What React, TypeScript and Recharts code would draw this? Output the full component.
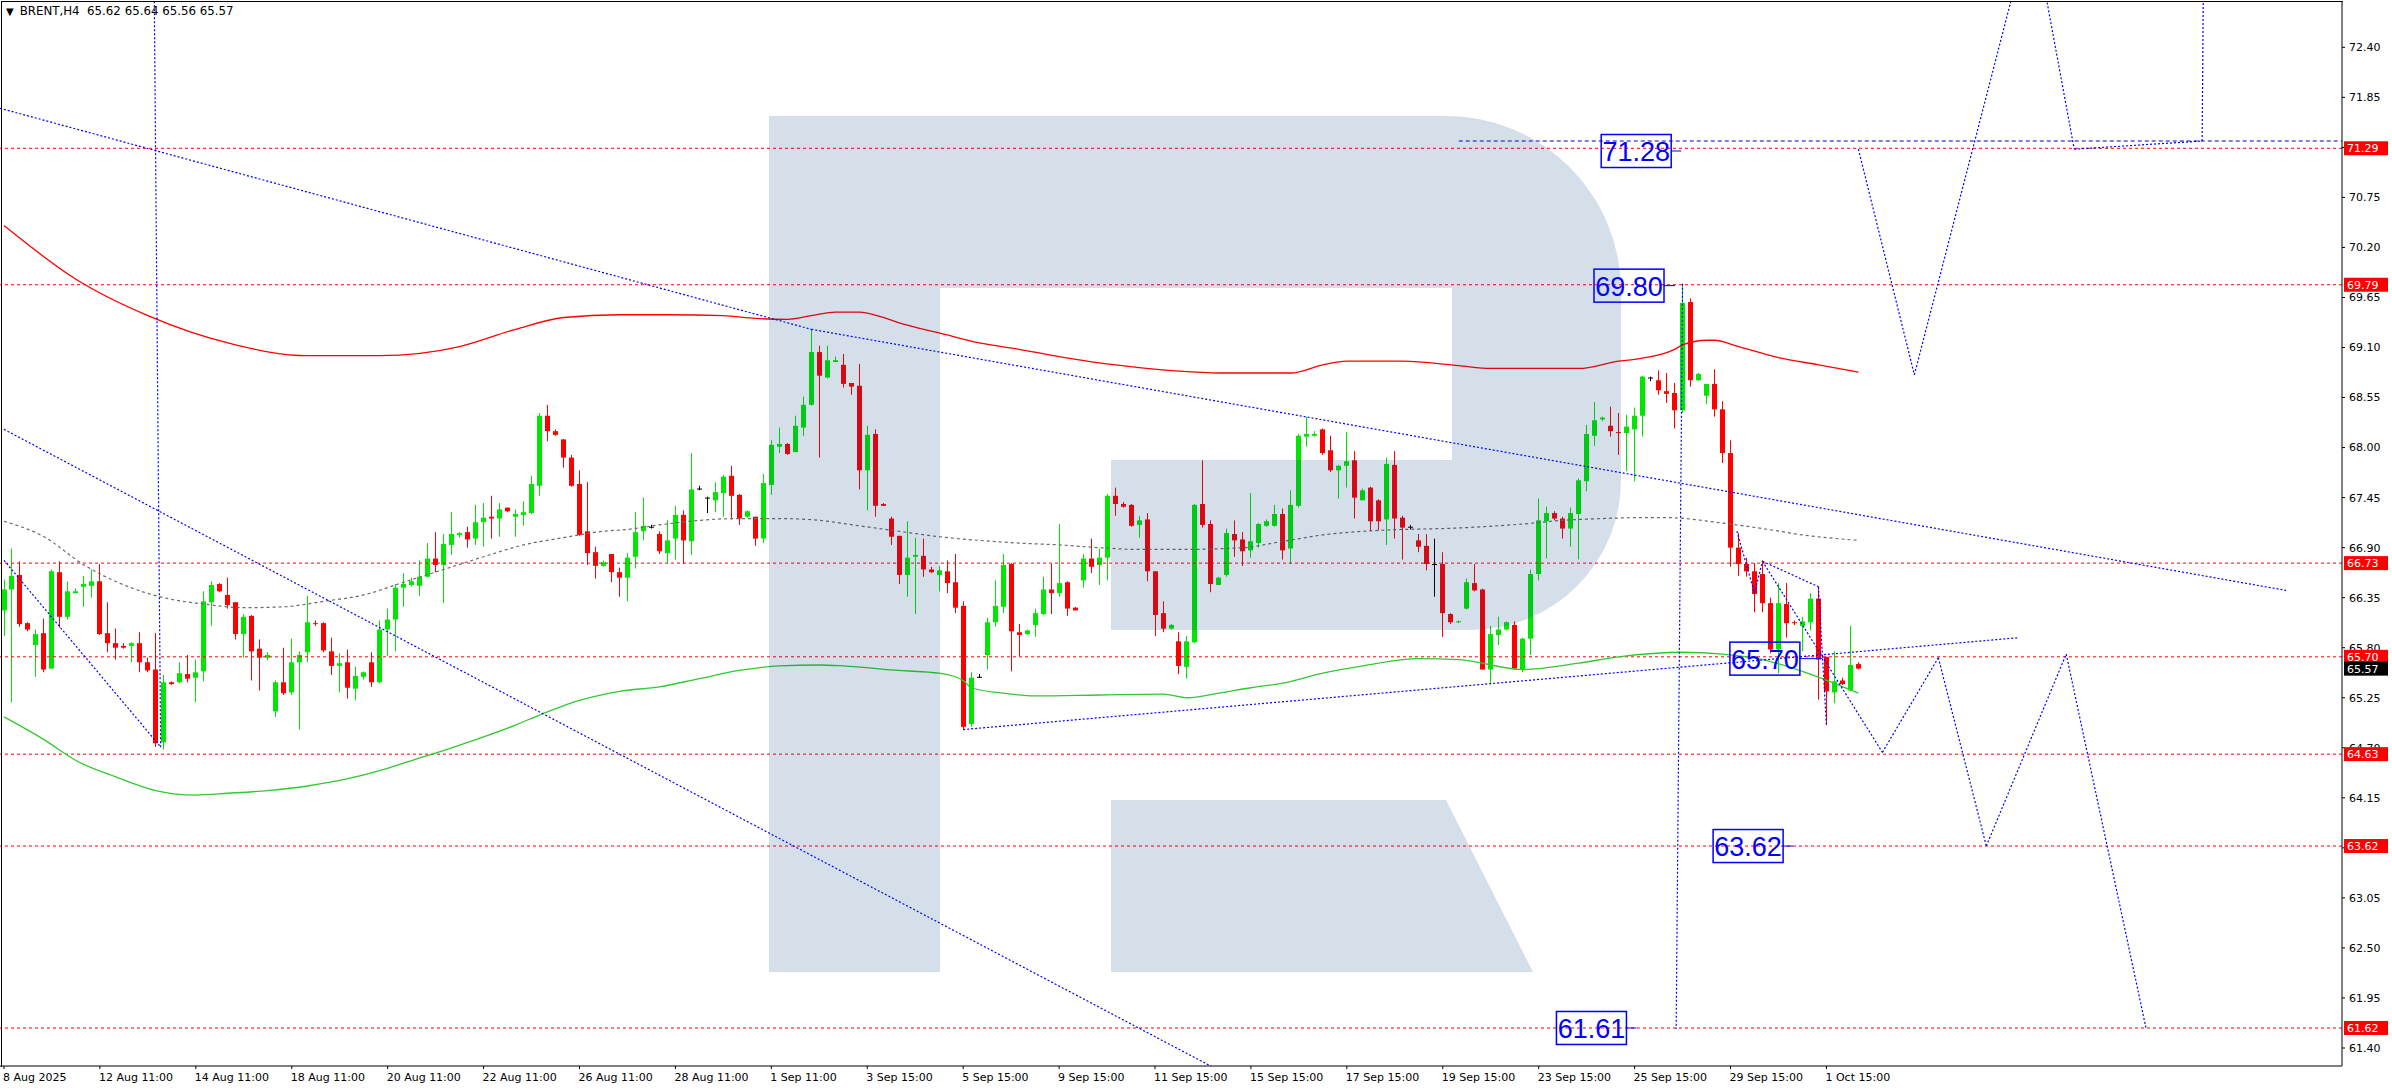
import React from 'react';
import { ComposedChart, Bar, Line, XAxis, YAxis, ReferenceLine, ReferenceDot } from 'recharts';

// ---------- candle data (bar index 0..232) ----------
const opens = [
  66.21,66.44,66.60,66.07,65.83,65.96,65.57,66.63,66.14,66.40,
  66.47,66.48,66.53,65.96,65.85,65.82,65.82,65.85,65.64,65.56,
  64.76,65.42,65.42,65.51,65.47,65.54,66.30,66.50,66.38,66.30,
  65.95,66.15,65.79,65.69,65.10,65.42,65.31,65.64,65.75,66.07,
  66.07,65.76,65.60,65.64,65.35,65.48,65.64,65.42,66.00,66.11,
  66.46,66.49,66.48,66.58,66.78,66.71,66.93,67.04,67.07,67.00,
  67.18,67.24,67.22,67.34,67.24,67.26,67.28,67.58,68.35,68.18,
  68.09,67.89,67.60,67.08,66.85,66.70,66.83,66.63,66.57,66.80,
  67.08,67.13,67.05,66.84,67.00,67.26,66.97,67.55,67.45,67.42,
  67.50,67.69,67.48,67.24,67.24,67.00,67.59,68.01,68.04,67.95,
  68.22,68.47,69.05,68.77,68.94,68.91,68.71,68.68,67.75,68.15,
  67.38,67.22,67.03,66.60,66.80,66.81,66.66,66.60,66.64,66.52,
  66.26,64.96,65.48,65.72,66.08,66.25,66.72,65.97,65.95,66.05,
  66.17,66.44,66.40,66.52,66.24,66.54,66.78,66.71,66.79,67.47,
  67.38,67.37,67.15,67.21,66.64,66.18,66.01,65.87,65.59,65.86,
  67.38,67.16,66.49,66.60,67.05,66.99,66.87,66.95,67.14,67.14,
  67.27,66.89,67.36,68.12,68.13,68.20,67.97,67.75,67.80,67.86,
  67.42,67.56,67.42,67.21,67.81,67.23,67.13,66.98,66.92,66.72,
  66.72,66.17,66.08,66.23,66.51,66.44,65.56,65.94,66.00,66.05,
  65.56,65.90,66.61,67.19,67.28,67.22,67.11,67.27,67.63,68.13,
  68.31,68.24,68.17,68.16,68.20,68.35,68.77,68.74,68.62,68.60,
  68.41,69.60,68.74,68.57,68.70,68.42,67.94,66.90,66.72,66.64,
  66.61,66.29,65.78,66.28,66.08,66.04,66.08,66.34,65.70,65.31,
  65.44,65.33,65.62,
];
const highs = [
  66.55,66.89,66.75,66.08,66.00,66.12,66.66,66.75,66.53,66.45,
  66.59,66.66,66.72,66.30,66.01,65.85,65.86,65.97,65.69,65.96,
  65.50,65.43,65.64,65.72,65.67,66.42,66.53,66.51,66.57,66.30,
  66.17,66.16,65.89,65.75,65.44,65.80,65.90,65.76,66.37,66.10,
  66.08,65.91,65.74,65.78,65.59,65.54,65.75,66.10,66.23,66.50,
  66.62,66.57,66.76,66.95,67.07,67.05,67.29,67.07,67.13,67.37,
  67.39,67.47,67.39,67.34,67.32,67.41,67.69,68.38,68.47,68.20,
  68.09,67.92,67.75,67.62,66.91,66.76,66.83,66.68,66.84,67.29,
  67.45,67.15,67.08,67.20,67.36,67.31,67.94,67.58,67.46,67.62,
  67.70,67.80,67.49,67.31,67.24,67.71,68.08,68.22,68.05,68.35,
  68.56,69.30,69.12,69.12,69.00,69.03,68.71,68.92,68.24,68.20,
  67.39,67.24,67.03,67.19,67.01,67.00,66.69,66.70,66.76,66.83,
  66.31,65.53,65.51,66.13,66.54,66.83,66.73,66.06,66.00,66.23,
  66.58,66.72,67.16,66.53,66.25,66.83,67.00,66.89,67.49,67.56,
  67.40,67.38,67.25,67.28,66.64,66.31,66.06,65.97,65.93,67.38,
  67.86,67.20,66.58,67.11,67.20,67.07,67.50,67.17,67.21,67.37,
  67.33,67.53,68.15,68.34,68.18,68.21,68.13,67.81,68.17,67.96,
  67.55,67.57,67.43,67.89,67.96,67.25,67.15,67.05,67.05,67.00,
  66.85,66.18,66.10,66.56,66.72,66.45,66.04,66.14,66.09,66.09,
  65.91,66.66,67.44,67.35,67.30,67.24,67.34,67.66,68.25,68.50,
  68.34,68.45,68.38,68.36,68.44,68.79,68.78,68.85,68.82,68.71,
  69.80,69.64,68.82,68.70,68.86,68.51,68.08,67.06,66.79,66.73,
  66.76,66.35,66.51,66.51,66.10,66.14,66.40,66.47,65.70,65.76,
  65.47,66.04,65.64,
];
const lows = [
  65.93,65.20,66.03,65.98,65.48,65.53,65.57,66.02,66.11,66.40,
  66.25,66.35,65.94,65.75,65.67,65.79,65.64,65.53,65.53,64.71,
  64.68,65.39,65.41,65.42,65.20,65.43,66.04,66.41,66.23,65.89,
  65.69,65.44,65.33,65.66,65.04,65.28,65.28,64.90,65.64,66.04,
  65.75,65.50,65.31,65.24,65.22,65.45,65.37,65.41,65.71,65.76,
  66.25,66.47,66.37,66.58,66.63,66.29,66.82,67.01,66.90,66.93,
  66.91,67.00,67.02,67.29,67.02,67.14,67.27,67.47,68.07,68.13,
  67.78,67.57,67.03,66.71,66.56,66.69,66.52,66.36,66.31,66.67,
  66.98,67.11,66.83,66.73,66.77,66.72,66.82,67.53,67.28,67.29,
  67.24,67.21,67.15,67.23,66.92,66.95,67.48,67.94,67.92,67.95,
  68.13,68.46,67.89,68.76,68.94,68.66,68.58,67.54,67.31,67.24,
  67.36,66.93,66.50,66.36,66.17,66.58,66.62,66.42,66.40,66.18,
  64.90,64.93,65.47,65.56,66.03,66.18,65.54,65.71,65.94,65.92,
  66.16,66.17,66.36,66.15,66.21,66.46,66.62,66.49,66.54,67.25,
  67.34,67.13,67.01,66.53,65.93,65.97,66.00,65.51,65.46,65.85,
  67.12,66.41,66.49,66.58,66.80,66.70,66.79,66.90,67.13,67.13,
  66.77,66.72,67.34,68.01,68.12,67.92,67.73,67.44,67.56,67.22,
  67.42,67.08,67.09,66.93,67.00,66.77,67.10,66.85,66.65,66.36,
  65.92,66.06,66.07,66.22,66.42,65.56,65.41,65.83,65.99,65.56,
  65.53,65.72,66.54,66.78,67.20,67.00,66.91,66.77,67.52,68.02,
  68.29,68.12,67.92,67.74,67.63,68.12,68.73,68.58,68.49,68.21,
  68.38,68.67,68.73,68.48,68.34,67.83,66.69,66.59,66.58,66.19,
  66.19,65.74,65.52,65.91,66.05,65.76,65.99,65.23,64.95,65.19,
  65.39,65.32,65.56,
];
const closes = [
  66.44,66.59,66.06,66.00,65.95,65.56,66.64,66.14,66.42,66.42,
  66.50,66.53,65.95,65.85,65.80,65.80,65.85,65.64,65.55,64.75,
  65.42,65.40,65.52,65.46,65.53,66.31,66.49,66.42,66.27,65.95,
  66.14,65.76,65.69,65.72,65.42,65.30,65.64,65.72,66.08,66.06,
  65.77,65.60,65.63,65.36,65.49,65.53,65.42,66.00,66.11,66.46,
  66.50,66.53,66.58,66.78,66.71,66.94,67.05,67.06,66.99,67.18,
  67.23,67.22,67.32,67.30,67.27,67.29,67.60,68.35,68.18,68.14,
  67.89,67.58,67.04,66.84,66.70,66.74,66.63,66.57,66.79,67.07,
  67.14,67.13,66.86,66.98,67.26,66.98,67.54,67.55,67.45,67.51,
  67.68,67.47,67.22,67.30,67.00,67.61,68.03,68.04,67.93,68.24,
  68.47,69.05,68.79,68.96,68.96,68.70,68.67,67.75,68.14,67.36,
  67.36,67.02,66.60,66.79,66.82,66.66,66.63,66.65,66.51,66.24,
  64.93,65.47,65.48,66.08,66.26,66.71,65.98,65.94,65.99,66.18,
  66.44,66.40,66.51,66.23,66.21,66.78,66.69,66.79,67.47,67.38,
  67.35,67.14,67.20,66.64,66.16,66.01,66.05,65.60,65.87,67.37,
  67.15,66.50,66.57,67.06,66.98,66.86,66.97,67.16,67.19,67.27,
  66.87,67.37,68.13,68.15,68.15,67.94,67.75,67.80,67.85,67.45,
  67.53,67.19,67.19,67.82,67.22,67.12,67.13,66.91,66.72,66.72,
  66.18,66.08,66.09,66.52,66.43,65.56,65.95,66.00,66.08,65.57,
  65.90,66.61,67.20,67.28,67.22,67.11,67.28,67.64,68.15,68.30,
  68.33,68.18,68.16,68.23,68.35,68.78,68.77,68.63,68.59,68.41,
  69.59,68.74,68.81,68.70,68.42,67.94,66.90,66.72,66.64,66.39,
  66.29,65.78,66.29,66.07,66.07,66.09,66.34,65.67,65.32,65.43,
  65.40,65.61,65.57,
];

// ---------- moving averages: [bar index, value] ----------
const maRedPts = [
  [0,70.44],[9,69.85],[18,69.45],[28,69.15],[38,69.01],[47,69.01],[57,69.11],[64,69.30],[70,69.43],
  [77,69.46],[83,69.46],[90,69.45],[94,69.42],[98,69.41],[101,69.45],[104,69.49],[107,69.49],
  [110,69.43],[112,69.37],[117,69.26],[122,69.15],[127,69.08],[132,69.00],[137,68.93],[142,68.88],
  [147,68.84],[152,68.82],[156,68.82],[161,68.82],[165,68.91],[168,68.95],[175,68.95],[182,68.90],
  [186,68.87],[197,68.87],[202,68.95],[204,68.97],[209,69.08],[210,69.13],[213,69.18],[214,69.18],
  [217,69.11],[222,68.99],[227,68.91],[232,68.83],
];
const maGrayPts = [
  [0,67.19],[5,67.02],[10,66.71],[15,66.49],[20,66.35],[25,66.28],[30,66.24],[35,66.25],[40,66.31],
  [45,66.38],[50,66.52],[55,66.66],[60,66.80],[65,66.93],[70,67.01],[75,67.08],[78,67.10],[82,67.15],
  [87,67.20],[92,67.22],[97,67.22],[102,67.20],[107,67.14],[112,67.08],[117,67.02],[122,66.98],
  [127,66.95],[132,66.93],[137,66.90],[142,66.88],[147,66.88],[155,66.90],[160,66.97],[165,67.04],
  [170,67.08],[175,67.10],[180,67.11],[185,67.13],[190,67.16],[195,67.20],[200,67.22],[205,67.23],
  [208,67.23],[215,67.17],[220,67.11],[225,67.04],[232,66.98],
];
const maGreenPts = [
  [0,65.04],[5,64.79],[9,64.56],[14,64.38],[19,64.23],[24,64.18],[28,64.20],[33,64.23],[38,64.28],
  [43,64.36],[47,64.45],[51,64.56],[56,64.70],[60,64.82],[64,64.95],[67,65.06],[72,65.22],[77,65.32],
  [82,65.37],[87,65.46],[92,65.55],[97,65.60],[102,65.61],[105,65.60],[112,65.55],[117,65.52],
  [120,65.44],[121,65.36],[125,65.30],[129,65.27],[137,65.28],[145,65.29],[148,65.25],[152,65.30],
  [156,65.36],[160,65.41],[165,65.52],[170,65.60],[177,65.68],[182,65.67],[190,65.56],[197,65.63],
  [202,65.70],[210,65.75],[215,65.73],[220,65.67],[225,65.54],[232,65.30],
];

// ---------- axes ----------
const priceTicks = [72.4,71.85,71.3,70.75,70.2,69.65,69.1,68.55,68.0,67.45,66.9,66.35,65.8,65.25,64.7,64.15,63.6,63.05,62.5,61.95,61.4];
const timeTickIdx = [0,12,24,36,48,60,72,84,96,108,120,132,144,156,168,180,192,204,216,228];
const timeTickLabels = ['8 Aug 2025','12 Aug 11:00','14 Aug 11:00','18 Aug 11:00','20 Aug 11:00','22 Aug 11:00','26 Aug 11:00','28 Aug 11:00','1 Sep 11:00','3 Sep 15:00','5 Sep 15:00','9 Sep 15:00','11 Sep 15:00','15 Sep 15:00','17 Sep 15:00','19 Sep 15:00','23 Sep 15:00','25 Sep 15:00','29 Sep 15:00','1 Oct 15:00'];
const slotCount = 293;
const priceMin = 61.202;
const priceMax = 72.898;

// ---------- levels & drawings ----------
const levelValues = [71.29, 69.79, 66.73, 65.70, 64.63, 63.62, 61.62];
const lastPrice = 65.57;
const headerText = 'BRENT,H4  65.62 65.64 65.56 65.57';

const trendA = [[-0.5,71.73],[101,69.30]];
const trendB = [[101,69.30],[285.5,66.43]];
const trendC = [[0,68.20],[151,61.20]];
const trendD = [[0,66.76],[19.5,64.72]];
const vertE = [[18.8,72.95],[19.6,64.70]];
const supportF = [[120,64.90],[252,65.91]];
const vertG = [[210,69.80],[209.2,61.61]];
const forecastUp = [[232,71.28],[239,68.80],[253.7,73.8],[259,71.28],[275,71.37],[275.2,73.6]];
const forecastDown = [[220,66.75],[235,64.65],[242,65.69],[248,63.62],[258,65.73],[268,61.61]];
const waveABC = [[216.8,67.08],[219,66.40],[220,66.75],[227,66.47],[228,64.95]];
const levelH = [[182,71.37],[292.5,71.37]];

const dottedPaths = [trendA, trendB, trendC, trendD, vertE, supportF, vertG, forecastUp, forecastDown, waveABC];

// ---------- build chart rows ----------
const rows: any[] = Array.from({ length: slotCount }, (_, i) => {
  const r: any = { i };
  if (i < opens.length) {
    r.o = opens[i]; r.h = highs[i]; r.l = lows[i]; r.c = closes[i];
    r.range = [lows[i], highs[i]];
  }
  return r;
});
maRedPts.forEach(([i, v]) => { rows[i].maRed = v; });
maGrayPts.forEach(([i, v]) => { rows[i].maGray = v; });
maGreenPts.forEach(([i, v]) => { rows[i].maGreen = v; });

const FONT = "'DejaVu Sans', Verdana, sans-serif";
const BULL = '#00e600';
const BEAR = '#ff0000';
const W = 2392;
const H = 1090;
const MARGIN = { top: 2, right: 0, bottom: 0, left: 0 };

const Candle = (props: any) => {
  const { x, y, width, height, payload } = props;
  if (!payload || payload.h == null) return null;
  const { o, h, l, c } = payload;
  const span = h - l;
  const yOf = (v: number) => (span > 0 ? y + ((h - v) / span) * height : y);
  const cx = Math.round(x + width / 2) + 0.5;
  const doji = o === c;
  const color = doji ? '#000000' : c > o ? BULL : BEAR;
  const yo = yOf(o);
  const yc = yOf(c);
  const top = Math.min(yo, yc);
  const bh = Math.max(1, Math.abs(yc - yo));
  return (
    <g>
      <line x1={cx} x2={cx} y1={yOf(h)} y2={yOf(l)} stroke={color} strokeWidth={1} />
      <rect x={cx - 2.5} y={top} width={5} height={bh} fill={color} />
    </g>
  );
};

const PriceTag = (props: any) => {
  const { viewBox, text, bg } = props;
  if (!viewBox) return null;
  const x = viewBox.x + viewBox.width + 2;
  const y = viewBox.y;
  return (
    <g>
      <rect x={x} y={y - 7} width={44} height={14} fill={bg} />
      <text x={x + 3} y={y + 4} fill="#ffffff" fontSize={11} fontFamily={FONT}>{text}</text>
    </g>
  );
};

const BoxLabel = (props: any) => {
  const { cx, cy, text, tail } = props;
  if (cx == null || cy == null) return null;
  const w = 70;
  const h = 33;
  return (
    <g>
      <rect x={cx - w / 2} y={cy - h / 2} width={w} height={h} fill="none" stroke="#0000ff" strokeWidth={1.5} />
      <text x={cx} y={cy + 10} textAnchor="middle" fontSize={27} fontFamily="'Liberation Sans', Arial, sans-serif" fill="#0000ff">{text}</text>
      <line x1={cx + w / 2} y1={cy} x2={cx + w / 2 + tail} y2={cy} stroke="#0000ff" strokeWidth={1} />
    </g>
  );
};

const TimeTick = (props: any) => {
  const { x, y, payload } = props;
  const k = timeTickIdx.indexOf(payload.value);
  return (
    <text x={x - 1} y={y + 10} fontSize={11} fontFamily={FONT} fill="#000000" textAnchor="start">
      {k >= 0 ? timeTickLabels[k] : ''}
    </text>
  );
};

export default function App() {
  return (
    <div style={{ position: 'absolute', left: 0, top: 0, width: W, height: H, background: '#ffffff', overflow: 'hidden' }}>
      {/* main chart */}
      <div style={{ position: 'absolute', left: 0, top: 0 }}>
        <ComposedChart width={W} height={H} data={rows} margin={MARGIN}>
          <XAxis xAxisId="cat" dataKey="i" type="category" hide />
          <XAxis
            dataKey="i"
            type="number"
            domain={[-0.5, slotCount - 0.5]}
            allowDataOverflow
            ticks={timeTickIdx}
            interval={0}
            tick={<TimeTick />}
            tickSize={3}
            height={24}
            axisLine={{ stroke: '#000000' }}
            tickLine={{ stroke: '#000000' }}
          />
          <YAxis
            orientation="right"
            type="number"
            domain={[priceMin, priceMax]}
            allowDataOverflow
            ticks={priceTicks}
            interval={0}
            width={50}
            tickSize={3}
            tickMargin={4}
            tickFormatter={(v: number) => v.toFixed(2)}
            tick={{ fontSize: 11, fontFamily: FONT, fill: '#000000' }}
            axisLine={{ stroke: '#000000' }}
            tickLine={{ stroke: '#000000' }}
          />

          {levelValues.map((v) => (
            <ReferenceLine key={'lv' + v} y={v} stroke="#ff0000" strokeDasharray="3 3" strokeWidth={1} />
          ))}

          <Bar xAxisId="cat" dataKey="range" barSize={5} shape={<Candle />} isAnimationActive={false} />

          <Line dataKey="maRed" type="monotone" stroke="#ff0000" strokeWidth={1.3} dot={false} connectNulls isAnimationActive={false} />
          <Line dataKey="maGray" type="monotone" stroke="#6a6a6a" strokeWidth={1.2} strokeDasharray="3 3" dot={false} connectNulls isAnimationActive={false} />
          <Line dataKey="maGreen" type="monotone" stroke="#32c832" strokeWidth={1.3} dot={false} connectNulls isAnimationActive={false} />

          <ReferenceLine segment={[{ x: levelH[0][0], y: levelH[0][1] }, { x: levelH[1][0], y: levelH[1][1] }]}
            stroke="#0000cc" strokeWidth={1} strokeDasharray="4 3" ifOverflow="hidden" />
          {dottedPaths.map((path, pi) =>
            path.slice(1).map((pt, k) => (
              <ReferenceLine key={'p' + pi + '-' + k}
                segment={[{ x: path[k][0], y: path[k][1] }, { x: pt[0], y: pt[1] }]}
                stroke="#0000ff" strokeWidth={1.2} strokeDasharray="2 2" ifOverflow="hidden" />
            ))
          )}

          <ReferenceDot x={204.2} y={71.26} r={0} ifOverflow="visible" shape={(p: any) => <BoxLabel {...p} text="71.28" tail={10} />} />
          <ReferenceDot x={203.3} y={69.78} r={0} ifOverflow="visible" shape={(p: any) => <BoxLabel {...p} text="69.80" tail={11} />} />
          <ReferenceDot x={220.3} y={65.68} r={0} ifOverflow="visible" shape={(p: any) => <BoxLabel {...p} text="65.70" tail={22} />} />
          <ReferenceDot x={218.2} y={63.62} r={0} ifOverflow="visible" shape={(p: any) => <BoxLabel {...p} text="63.62" tail={10} />} />
          <ReferenceDot x={198.6} y={61.62} r={0} ifOverflow="visible" shape={(p: any) => <BoxLabel {...p} text="61.61" tail={10} />} />
        </ComposedChart>
      </div>

      {/* price tags layer: same axes, drawn above the price scale */}
      <div style={{ position: 'absolute', left: 0, top: 0, pointerEvents: 'none' }}>
        <ComposedChart width={W} height={H} data={rows} margin={MARGIN}>
          <XAxis dataKey="i" type="number" domain={[-0.5, slotCount - 0.5]} allowDataOverflow
            height={24} tick={false} axisLine={false} tickLine={false} />
          <YAxis orientation="right" type="number" domain={[priceMin, priceMax]} allowDataOverflow
            width={50} tick={false} axisLine={false} tickLine={false} />
          {levelValues.map((v) => (
            <ReferenceLine key={'tag' + v} y={v} stroke="none" ifOverflow="visible"
              label={<PriceTag text={v.toFixed(2)} bg="#ff0000" />} />
          ))}
          <ReferenceLine y={lastPrice} stroke="none" ifOverflow="visible"
            label={<PriceTag text={lastPrice.toFixed(2)} bg="#000000" />} />
        </ComposedChart>
      </div>

      {/* frame top/left */}
      <div style={{ position: 'absolute', left: 1, top: 1, width: 2341, height: 1065, borderTop: '1px solid #000', borderLeft: '1px solid #000', pointerEvents: 'none' }} />

      {/* watermark overlay */}
      <svg width={W} height={H} style={{ position: 'absolute', left: 0, top: 0, pointerEvents: 'none' }}>
        <path d="M 769 116 H 1446 A 175 175 0 0 1 1621 291 V 480 A 150 150 0 0 1 1471 630 H 1111 V 460 H 1452 V 288 H 940 V 972 H 769 Z" fill="rgb(0,61,128)" fillOpacity={0.165} />
        <path d="M 1111 800 H 1446 L 1533 972 H 1111 Z" fill="rgb(0,61,128)" fillOpacity={0.165} />
      </svg>

      {/* header */}
      <div style={{ position: 'absolute', left: 6, top: 4, fontFamily: FONT, fontSize: 11.8, color: '#000', whiteSpace: 'pre', lineHeight: '14px' }}>
        <span style={{ fontSize: 10, marginRight: 6 }}>▼</span>{headerText}
      </div>
    </div>
  );
}
